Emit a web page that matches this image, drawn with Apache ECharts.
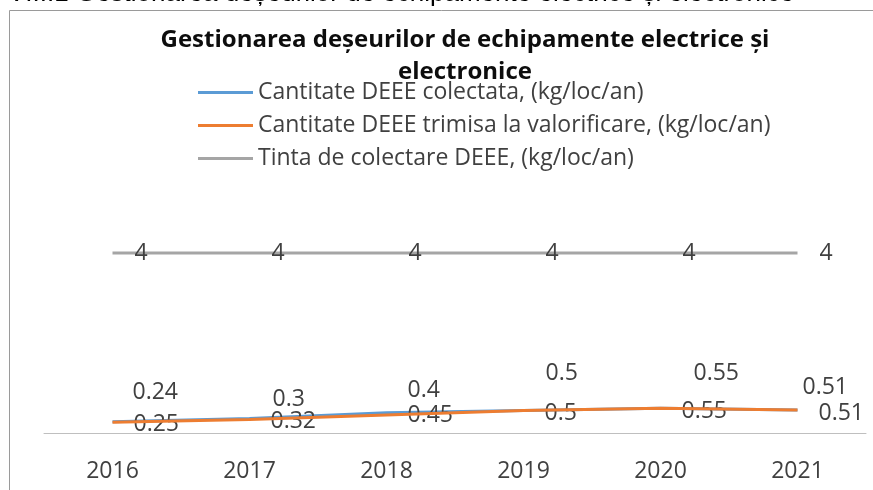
<!DOCTYPE html>
<html>
<head>
<meta charset="utf-8">
<script src="https://cdn.jsdelivr.net/npm/echarts@6/dist/echarts.min.js"></script>
<style>
  html, body { margin: 0; padding: 0; background: #fff; }
  #chart { width: 873px; height: 490px; }
</style>
</head>
<body>
<div id="chart"></div>
<script>
  // date
  var years = ['2016', '2017', '2018', '2019', '2020', '2021'];
  var colectata = [0.25, 0.32, 0.45, 0.5, 0.55, 0.51];
  var valorificare = [0.24, 0.3, 0.4, 0.5, 0.55, 0.51];
  var tinta = [4, 4, 4, 4, 4, 4];
  var seriesNames = [
    'Cantitate DEEE colectata, (kg/loc/an)',
    'Cantitate DEEE trimisa la valorificare, (kg/loc/an)',
    'Tinta de colectare DEEE, (kg/loc/an)'
  ];
  // deplasarea etichetelor (mutate manual in original)
  var valLabelOffset = [[20, -30], [23, -20], [21, -25], [22, -37], [33, -35], [5, -23]];

  var font = "'Open Sans', 'Liberation Sans', Arial, sans-serif";
  var labelColor = '#404040';

  var myChart = echarts.init(document.getElementById('chart'));
  myChart.setOption({
    animation: false,
    textStyle: { fontFamily: font },
    title: {
      text: 'Gestionarea deșeurilor de echipamente electrice și\nelectronice',
      left: 460,
      top: 19,
      textAlign: 'center',
      textStyle: { fontSize: 24, fontWeight: 'bold', color: '#0d0d0d', lineHeight: 32, fontFamily: font }
    },
    legend: {
      orient: 'vertical',
      left: 193,
      top: 76,
      icon: 'rect',
      itemWidth: 55,
      itemHeight: 3,
      itemGap: 10,
      data: [seriesNames[0], seriesNames[1], seriesNames[2]],
      textStyle: { fontSize: 23, color: labelColor, fontFamily: font }
    },
    graphic: [
      {
        type: 'rect',
        shape: { x: 9.5, y: 10.5, width: 900, height: 600 },
        style: { fill: 'none', stroke: '#9a9a9a', lineWidth: 1 },
        silent: true
      },
      {
        type: 'text',
        left: 8,
        top: -19,
        style: {
          text: 'VIII.1 Gestionarea deșeurilor de echipamente electrice și electronice',
          font: '26px ' + "'Liberation Sans', Arial, sans-serif",
          fill: '#000'
        },
        silent: true
      }
    ],
    grid: { left: 44, right: 7, top: 208, bottom: 57 },
    xAxis: {
      type: 'category',
      data: years,
      axisTick: { show: false },
      axisLine: { lineStyle: { color: '#BFBFBF', width: 1 } },
      axisLabel: { fontSize: 23, color: labelColor, margin: 27, fontFamily: font }
    },
    yAxis: {
      type: 'value',
      min: 0,
      max: 5,
      show: false,
      splitLine: { show: false }
    },
    series: [
      {
        name: seriesNames[2],
        type: 'line',
        data: tinta,
        symbol: 'circle',
        symbolSize: 0,
        color: '#A5A5A5',
        lineStyle: { width: 3, color: '#A5A5A5' },
        z: 1,
        label: { show: true, position: 'right', distance: 22, fontSize: 23, color: labelColor }
      },
      {
        name: seriesNames[0],
        type: 'line',
        data: colectata,
        symbol: 'circle',
        symbolSize: 0,
        color: '#5B9BD5',
        lineStyle: { width: 3, color: '#5B9BD5' },
        z: 2,
        label: { show: true, position: 'right', distance: 21, offset: [0, 3], fontSize: 23, color: labelColor }
      },
      {
        name: seriesNames[1],
        type: 'line',
        data: valorificare.map(function (v, i) {
          return {
            value: v,
            label: { offset: valLabelOffset[i] }
          };
        }),
        symbol: 'circle',
        symbolSize: 0,
        color: '#ED7D31',
        lineStyle: { width: 3, color: '#ED7D31' },
        z: 3,
        label: { show: true, position: 'right', distance: 0, fontSize: 23, color: labelColor }
      }
    ]
  });
</script>
</body>
</html>
